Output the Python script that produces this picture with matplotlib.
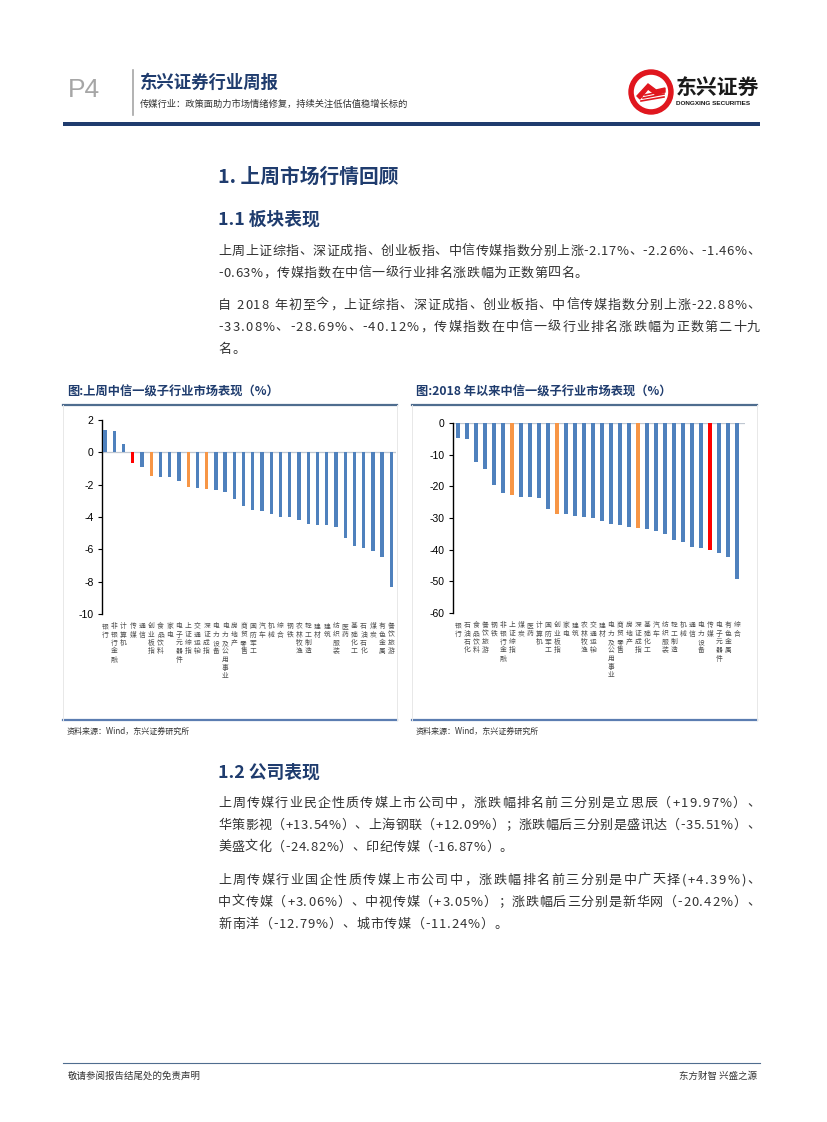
import matplotlib
matplotlib.use("Agg")
import matplotlib.pyplot as plt
from matplotlib.patches import Circle, Polygon, Rectangle

plt.rcParams['font.family'] = ['Noto Sans CJK SC', 'DejaVu Sans']

# ---------------- data ----------------
week_labels = ["银行", "非银行金融", "计算机", "传媒", "通信", "创业板指", "食品饮料", "家电",
               "电子元器件", "上证综指", "交通运输", "深证成指", "电力设备", "电力及公用事业",
               "房地产", "商贸零售", "国防军工", "汽车", "机械", "综合", "钢铁", "农林牧渔",
               "轻工制造", "建材", "建筑", "纺织服装", "医药", "基础化工", "石油石化", "煤炭",
               "有色金属", "餐饮旅游"]
week_values = [1.40, 1.34, 0.50, -0.63, -0.88, -1.46, -1.55, -1.55, -1.75, -2.17, -2.22, -2.26,
               -2.30, -2.45, -2.90, -3.30, -3.55, -3.60, -3.80, -4.00, -4.00, -4.18, -4.45,
               -4.50, -4.50, -4.60, -5.30, -5.80, -5.93, -6.08, -6.48, -8.30]

ytd_labels = ["银行", "石油石化", "食品饮料", "餐饮旅游", "钢铁", "非银行金融", "上证综指", "煤炭",
              "医药", "计算机", "国防军工", "创业板指", "家电", "建筑", "农林牧渔", "交通运输",
              "建材", "电力及公用事业", "商贸零售", "房地产", "深证成指", "基础化工", "汽车",
              "纺织服装", "轻工制造", "机械", "通信", "电力设备", "传媒", "电子元器件",
              "有色金属", "综合"]
ytd_values = [-4.8, -5.1, -12.4, -14.4, -19.7, -22.0, -22.88, -23.4, -23.4, -23.7, -27.3, -28.69,
              -28.7, -29.3, -29.7, -30.0, -31.0, -31.9, -32.2, -32.8, -33.08, -33.4, -34.2,
              -34.9, -37.0, -37.6, -39.2, -39.6, -40.12, -40.9, -42.2, -49.3]

index_names = ["上证综指", "深证成指", "创业板指"]
media_name = "传媒"

BLUE = "#4F81BD"
ORANGE = "#F79646"
RED = "#FF0000"
NAVY = "#1F3C6E"
TEXT = "#333333"

W, H = 827, 1122
fig = plt.figure(figsize=(W / 100, H / 100), dpi=100)
fig.patch.set_facecolor("white")

# overlay axes in pixel coordinates
ov = fig.add_axes([0, 0, 1, 1])
ov.set_xlim(0, W)
ov.set_ylim(H, 0)
ov.axis("off")

renderer = fig.canvas.get_renderer()
_wcache = {}


def char_w(ch, fs, weight="normal"):
    key = (ch, fs, weight)
    if key not in _wcache:
        t = ov.text(0, 0, ch, fontsize=fs, fontweight=weight)
        bb = t.get_window_extent(renderer)
        t.remove()
        w = bb.width
        if ch == " ":
            w = fs * 100 / 72 * 0.3
        _wcache[key] = w
    return _wcache[key]


def draw_line(text, x0, y, fs, x1=None, extra=None, color=TEXT, weight="normal"):
    widths = [char_w(c, fs, weight) for c in text]
    total = sum(widths)
    n = len(text)
    if x1 is not None and n > 1:
        extra = (x1 - x0 - total) / (n - 1)
    if extra is None:
        extra = 0
    x = x0
    for c, w in zip(text, widths):
        ov.text(x, y, c, fontsize=fs, color=color, fontweight=weight, va="center", ha="left")
        x += w + extra
    return extra


def paragraph(lines, x0, x1, y0, dy, fs):
    ex = 0
    for i, ln in enumerate(lines):
        y = y0 + i * dy
        if i < len(lines) - 1:
            ex = draw_line(ln, x0, y, fs, x1=x1)
        else:
            draw_line(ln, x0, y, fs, extra=ex)


# ---------------- header ----------------
ov.text(68, 90, "P4", fontsize=19, color="#A6A6A6", va="center", ha="left",
        family=["Liberation Sans"])
ov.plot([133, 133], [70, 115], color="#A6A6A6", lw=1.2)
ov.text(140, 83, "东兴证券行业周报", fontsize=12.5, color=NAVY, fontweight="bold", va="center")
ov.text(140, 104, "传媒行业：政策面助力市场情绪修复，持续关注低估值稳增长标的", fontsize=6.7,
        color="#333333", va="center")

# logo
ov.add_patch(Circle((651, 92), 22, color="#E0161E"))
ov.add_patch(Circle((651, 92), 16.5, color="white"))
ov.add_patch(Polygon([[637, 96], [648, 84], [656, 90], [665, 88], [665, 92], [656, 95],
                      [648, 89], [640, 99]], closed=True, color="#E0161E"))
for k in range(3):
    ov.plot([641 + k * 2, 664], [101 - k * 3, 97 - k * 3], color="#E0161E", lw=1.2)
ov.text(676, 87, "东兴证券", fontsize=15, color="#1a1a1a", fontweight="bold", va="center")
ov.text(676, 103, "DONGXING SECURITIES", fontsize=4.6, color="#1a1a1a", fontweight="bold",
        va="center", family=["Liberation Sans"])

ov.add_patch(Rectangle((63, 122), 697, 4, color=NAVY, lw=0))

# ---------------- section text ----------------
ov.text(218, 177, "1. 上周市场行情回顾", fontsize=14.2, color=NAVY, fontweight="bold", va="center")
ov.text(218, 220, "1.1 板块表现", fontsize=12.8, color=NAVY, fontweight="bold", va="center")

BODY_FS = 9.4
paragraph(["上周上证综指、深证成指、创业板指、中信传媒指数分别上涨-2.17%、-2.26%、-1.46%、",
           "-0.63%，传媒指数在中信一级行业排名涨跌幅为正数第四名。"],
          218, 760, 251, 22, BODY_FS)
paragraph(["自 2018 年初至今，上证综指、深证成指、创业板指、中信传媒指数分别上涨-22.88%、",
           "-33.08%、-28.69%、-40.12%，传媒指数在中信一级行业排名涨跌幅为正数第二十九",
           "名。"],
          218, 760, 305, 22, BODY_FS)

ov.text(218, 773, "1.2 公司表现", fontsize=12.8, color=NAVY, fontweight="bold", va="center")
paragraph(["上周传媒行业民企性质传媒上市公司中，涨跌幅排名前三分别是立思辰（+19.97%）、",
           "华策影视（+13.54%）、上海钢联（+12.09%）；涨跌幅后三分别是盛讯达（-35.51%）、",
           "美盛文化（-24.82%）、印纪传媒（-16.87%）。"],
          218, 760, 803, 22, BODY_FS)
paragraph(["上周传媒行业国企性质传媒上市公司中，涨跌幅排名前三分别是中广天择(+4.39%)、",
           "中文传媒（+3.06%）、中视传媒（+3.05%）；涨跌幅后三分别是新华网（-20.42%）、",
           "新南洋（-12.79%）、城市传媒（-11.24%）。"],
          218, 760, 880, 22, BODY_FS)

# ---------------- chart frames ----------------
frames = [(63, 397, "图:上周中信一级子行业市场表现（%）"),
          (412, 757, "图:2018 年以来中信一级子行业市场表现（%）")]
for x0, x1, title in frames:
    ov.text(x0 + 4, 392, title, fontsize=8.8, color=NAVY, fontweight="bold", va="center")
    ov.plot([x0, x1], [405, 405], color="#4F6D8F", lw=1.6)
    ov.plot([x0, x1], [720, 720], color="#5B7DB1", lw=1.6)
    ov.plot([x0, x0], [405, 720], color="#E8E8E8", lw=0.7)
    ov.plot([x1, x1], [405, 720], color="#E8E8E8", lw=0.7)
    ov.text(x0 + 4, 731, "资料来源：Wind，东兴证券研究所", fontsize=5.8, color="#333333",
            va="center", style="italic")


def bar_colors(labels):
    cols = []
    for lb in labels:
        if lb == media_name:
            cols.append(RED)
        elif lb in index_names:
            cols.append(ORANGE)
        else:
            cols.append(BLUE)
    return cols


def make_chart(px0, px1, ptop, pbot, labels, values, ylim, yticks, xlim):
    ax = fig.add_axes([px0 / W, 1 - pbot / H, (px1 - px0) / W, (pbot - ptop) / H])
    ax.set_facecolor("none")
    x = list(range(len(values)))
    ax.bar(x, values, width=0.36, color=bar_colors(labels), zorder=3)
    ax.axhline(0, color="#BFC7D1", lw=0.9, zorder=2)
    ax.set_xlim(*xlim)
    ax.set_ylim(*ylim)
    ax.set_yticks(yticks)
    ax.set_yticklabels([str(t) for t in yticks], fontsize=7.5, family=["Liberation Sans"])
    ax.set_xticks([])
    for s in ["top", "right", "bottom"]:
        ax.spines[s].set_visible(False)
    ax.spines["left"].set_color("black")
    ax.spines["left"].set_linewidth(1.0)
    ax.tick_params(axis="y", length=3, width=0.8, pad=3, colors="black")
    for i, lb in enumerate(labels):
        ax.annotate("\n".join(lb), xy=(i, 0), xycoords=("data", "axes fraction"),
                    xytext=(0, -6), textcoords="offset points", ha="center", va="top",
                    fontsize=4.9, color="#505050", linespacing=1.05,
                    annotation_clip=False)
    return ax


make_chart(102, 396, 420, 614, week_labels, week_values, (-10, 2),
           [2, 0, -2, -4, -6, -8, -10], (-0.33, 31.5))
make_chart(453, 745, 423, 613, ytd_labels, ytd_values, (-60, 0),
           [0, -10, -20, -30, -40, -50, -60], (-0.56, 31.9))

# ---------------- footer ----------------
ov.plot([63, 760], [1063, 1063], color="#4F6D8F", lw=0.8)
ov.text(68, 1076, "敬请参阅报告结尾处的免责声明", fontsize=6.8, color="#333333", va="center")
ov.text(757, 1076, "东方财智 兴盛之源", fontsize=6.8, color="#333333", va="center", ha="right")

fig.savefig("out.png", dpi=100)
